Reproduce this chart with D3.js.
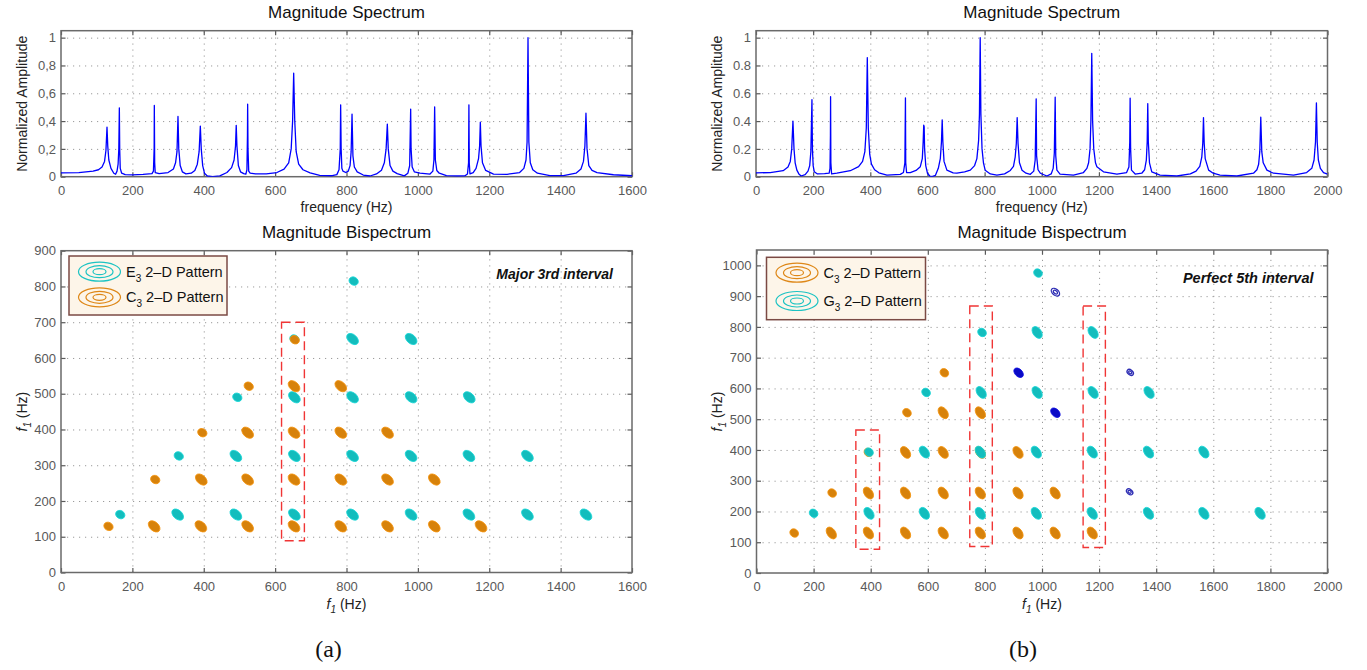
<!DOCTYPE html>
<html>
<head>
<meta charset="utf-8">
<script src="https://cdn.jsdelivr.net/npm/d3@7"></script>
<style>
  body { margin: 0; background: #fff; }
  svg { display: block; font-family: "Liberation Sans", Arial, Helvetica, sans-serif; }
</style>
</head>
<body>
<svg id="fig" width="1367" height="670"></svg>
<script>
// ---------- magnitude spectrum, chord (a): C3 + E3 ----------
const spectrumA = [
  [0,0.027],[50,0.03],[90,0.04],[105,0.05],[115,0.07],[122,0.11],[126,0.19],[128.9,0.357],[131,0.22],[134,0.12],
  [140,0.06],[148,0.025],[153,0.018],[157,0.04],[160,0.09],[162,0.2],[163.5,0.495],[164.5,0.2],[166,0.06],[170,0.025],
  [180,0.015],[200,0.013],[230,0.016],[255,0.022],[259,0.04],[261,0.2],[261.5,0.512],[262.5,0.1],[264,0.03],[275,0.022],
  [300,0.03],[315,0.055],[321,0.1],[325,0.18],[327.8,0.433],[330,0.2],[334,0.08],[340,0.035],[350,0.02],[365,0.025],
  [375,0.045],[382,0.09],[387,0.18],[390.4,0.364],[393,0.2],[397,0.08],[402,0.025],[410,0.005],[425,0.0],[445,0.006],
  [465,0.03],[478,0.065],[485,0.12],[489,0.22],[491,0.369],[493,0.22],[497,0.08],[503,0.035],[512,0.022],[518,0.018],
  [521,0.05],[522.5,0.3],[523,0.521],[524,0.2],[526,0.04],[530,0.025],[545,0.02],[575,0.02],[605,0.03],[625,0.055],
  [638,0.1],[645,0.2],[649,0.4],[652,0.744],[655,0.4],[659,0.18],[666,0.09],[678,0.05],[698,0.027],[725,0.01],
  [760,0.007],[773,0.015],[779,0.05],[782.5,0.2],[783.6,0.517],[785,0.2],[787,0.06],[790,0.04],[798,0.03],[805,0.04],
  [810,0.08],[813,0.18],[815.5,0.45],[818,0.15],[822,0.07],[830,0.035],[847,0.012],[866,0.005],[884,0.02],[898,0.047],
  [906,0.1],[911,0.2],[914.4,0.378],[917,0.2],[922,0.08],[930,0.04],[942,0.022],[962,0.006],[972,0.025],[977,0.08],
  [979.8,0.486],[981,0.2],[984,0.07],[990,0.035],[1006,0.025],[1034,0.019],[1042,0.04],[1045,0.12],[1047,0.502],[1049,0.12],
  [1053,0.045],[1060,0.025],[1080,0.008],[1110,0.005],[1132,0.007],[1139,0.02],[1142,0.1],[1143,0.517],[1144,0.1],[1146,0.02],
  [1155,0.03],[1163,0.06],[1170,0.13],[1173,0.22],[1175,0.392],[1177,0.22],[1181,0.1],[1190,0.045],[1212,0.019],[1250,0.017],
  [1285,0.03],[1297,0.06],[1303,0.12],[1306,0.25],[1308.6,1.0],[1311,0.25],[1315,0.1],[1322,0.05],[1335,0.025],[1370,0.008],
  [1408,0.008],[1443,0.025],[1457,0.055],[1464,0.11],[1468,0.22],[1471,0.457],[1474,0.2],[1479,0.08],[1488,0.045],[1502,0.03],
  [1548,0.014],[1600,0.007]
];

// ---------- magnitude spectrum, chord (b): C3 + G3 ----------
const spectrumB = [
  [0,0.027],[50,0.03],[95,0.043],[112,0.07],[120,0.11],[125,0.2],[129.3,0.40],[133,0.2],[137,0.1],[143,0.047],
  [150,0.02],[158,0.005],[172,0.015],[182,0.04],[188,0.08],[192,0.18],[195.8,0.555],[197.5,0.2],[200,0.08],[204,0.035],
  [215,0.02],[240,0.022],[256,0.025],[259,0.06],[260.5,0.3],[261,0.575],[262,0.1],[264.6,0.02],[283,0.025],[330,0.043],
  [359,0.072],[373,0.11],[381,0.18],[386,0.35],[389.5,0.857],[393,0.35],[398,0.16],[404,0.09],[415,0.05],[430,0.028],
  [458,0.012],[505,0.017],[516,0.03],[521,0.1],[523,0.567],[524,0.1],[527,0.03],[540,0.03],[560,0.045],[575,0.072],
  [582,0.13],[585,0.25],[587,0.371],[588.5,0.36],[590,0.2],[594,0.08],[600,0.025],[608,0.005],[616,0.0],[628,0.01],
  [638,0.06],[645,0.13],[649,0.25],[651.6,0.409],[654,0.25],[658,0.11],[668,0.047],[690,0.028],[703,0.025],[730,0.035],
  [750,0.047],[765,0.08],[773,0.13],[779,0.26],[782,0.45],[784.6,1.0],[787,0.45],[791,0.2],[796,0.1],[802,0.047],
  [820,0.02],[843,0.012],[870,0.02],[890,0.045],[901,0.075],[907,0.14],[911,0.24],[914,0.425],[917,0.24],[922,0.1],
  [931,0.047],[945,0.025],[960,0.017],[972,0.04],[977,0.12],[980.5,0.56],[982,0.15],[987,0.05],[995,0.025],[1018,0.005],
  [1033,0.02],[1040,0.06],[1044,0.17],[1047,0.572],[1049,0.15],[1053,0.047],[1064,0.019],[1111,0.012],[1146,0.03],[1158,0.06],
  [1164,0.1],[1169,0.2],[1172,0.4],[1175,0.887],[1178,0.4],[1182,0.2],[1188,0.1],[1193,0.072],[1216,0.035],[1263,0.019],
  [1297,0.03],[1305,0.07],[1308,0.25],[1309.3,0.565],[1311,0.2],[1314,0.047],[1327,0.019],[1350,0.025],[1360,0.05],[1366,0.12],
  [1369,0.25],[1371,0.526],[1373,0.25],[1377,0.1],[1385,0.035],[1414,0.012],[1473,0.005],[1520,0.02],[1540,0.04],[1553,0.075],
  [1560,0.14],[1563.5,0.24],[1566,0.425],[1568.5,0.24],[1572,0.13],[1584,0.047],[1600,0.025],[1624,0.012],[1683,0.005],[1741,0.025],
  [1753,0.05],[1759,0.09],[1763,0.18],[1766.5,0.428],[1770,0.18],[1775,0.1],[1788,0.047],[1811,0.025],[1881,0.012],[1927,0.03],
  [1945,0.06],[1953,0.12],[1958,0.25],[1961.2,0.53],[1964,0.25],[1968,0.12],[1975,0.06],[1986,0.03],[2000,0.019]
];

// spectrum y tick values and their printed labels
const ampTicks = [0, 0.2, 0.4, 0.6, 0.8, 1];
const ampLabelsA = ["0", "0,2", "0,4", "0,6", "0,8", "1"];
const ampLabelsB = ["0", "0.2", "0.4", "0.6", "0.8", "1"];

// ---------- bispectrum peaks [f1, f2] in Hz ----------
// (a) E3 pattern
const e3PeaksA = [
  [166,162],[327,162],[490,162],[654,162],[817,162],[981,162],[1143,162],[1307,162],[1471,162],
  [330,326],[490,326],[654,326],[817,326],[981,326],[1143,326],[1307,326],
  [494,490],[654,490],[817,490],[981,490],[1144,490],
  [654,653],[817,653],[981,653],
  [820,815]
];
// (a) C3 pattern
const c3PeaksA = [
  [133,129],[261,129],[392,129],[523,129],[653,129],[784,129],[915,129],[1046,129],[1177,129],
  [264,260],[393,260],[523,260],[653,260],[784,260],[915,260],[1046,260],
  [396,391],[523,391],[653,391],[784,391],[915,391],
  [526,521],[653,521],[784,521],
  [655,651]
];
// (b) C3 pattern
const c3PeaksB = [
  [132,130],[262,130],[392,130],[522,130],[654,130],[784,130],[916,130],[1046,130],[1176,130],
  [265,260],[392,260],[522,260],[654,260],[784,260],[916,260],[1046,260],
  [392,392],[522,392],[654,392],[784,392],[916,392],
  [527,521],[654,521],[784,521],
  [658,651]
];
// (b) G3 pattern
const g3PeaksB = [
  [200,194],[394,194],[588,194],[784,194],[980,194],[1176,194],[1373,194],[1567,194],[1764,194],
  [394,393],[588,393],[784,393],[980,393],[1176,393],[1373,393],[1567,393],
  [594,587],[787,587],[983,587],[1179,587],[1375,587],
  [790,782],[983,782],[1179,782],
  [986,975]
];
// (b) cross terms
const crossFilledB = [[918,651],[1047,521]];
const crossRingsB = [[1047,913],[1309,652],[1307,264]];

// highlighted f1 columns [f1 from, f1 to, f2 from, f2 to]
const boxesA = [[618,682,89,700]];
const boxesB = [[348,431,77,465],[747,826,86,868],[1144,1222,83,868]];

// legends
const legendA = [{note:"E", sub:"3", color:"#1cc3c3"}, {note:"C", sub:"3", color:"#de8717"}];
const legendB = [{note:"C", sub:"3", color:"#de8717"}, {note:"G", sub:"3", color:"#1cc3c3"}];

// ---------- drawing ----------
const COL = {
  cyan: "#13bdbd", orange: "#d7820b", blue: "#0a0ac6", ring: "#2d2db4",
  frame: "#6a6a6a", tick: "#5a5a5a", grid: "#9a9a9a", red: "#f03535"
};
const svg = d3.select("#fig");

function makePanel(box, xMax, yMax) {
  const x = d3.scaleLinear().domain([0, xMax]).range([box.l, box.r]);
  const y = d3.scaleLinear().domain([0, yMax]).range([box.b, box.t]);
  return {x, y, box};
}

function drawFrame(p, xTicks, yTicks, yLabels) {
  const {x, y, box} = p;
  const g = svg.append("g");
  const w = box.r - box.l, h = box.b - box.t;

  // dotted grid
  g.append("g").attr("transform", `translate(0,${box.b})`)
    .call(d3.axisBottom(x).tickValues(xTicks.filter(v => v > 0 && v < x.domain()[1]))
      .tickSize(-h).tickFormat(""))
    .call(a => a.select(".domain").remove())
    .selectAll("line").attr("stroke", COL.grid).attr("stroke-dasharray", "1.2,4.8");
  g.append("g").attr("transform", `translate(${box.l},0)`)
    .call(d3.axisLeft(y).tickValues(yTicks.filter(v => v > 0 && v < y.domain()[1]))
      .tickSize(-w).tickFormat(""))
    .call(a => a.select(".domain").remove())
    .selectAll("line").attr("stroke", COL.grid).attr("stroke-dasharray", "1.2,4.8");

  // inward ticks on all four sides
  const axes = [
    [d3.axisBottom(x).tickValues(xTicks).tickFormat(d => d).tickPadding(9), `translate(0,${box.b})`],
    [d3.axisTop(x).tickValues(xTicks).tickFormat(""), `translate(0,${box.t})`],
    [d3.axisLeft(y).tickValues(yTicks).tickFormat((d, i) => yLabels[i]).tickPadding(5), `translate(${box.l},0)`],
    [d3.axisRight(y).tickValues(yTicks).tickFormat(""), `translate(${box.r},0)`]
  ];
  axes.forEach(([ax, tr]) => {
    g.append("g").attr("transform", tr)
      .call(ax.tickSize(-4.5))
      .call(a => a.select(".domain").remove())
      .call(a => a.selectAll("line").attr("stroke", COL.tick).attr("stroke-width", 1.2))
      .call(a => a.selectAll("text").attr("fill", "#595959")
        .attr("font-size", 13).attr("font-family", "Liberation Sans, Arial, sans-serif"));
  });
  // outer frame
  g.append("rect").attr("x", box.l).attr("y", box.t).attr("width", w).attr("height", h)
    .attr("fill", "none").attr("stroke", COL.frame).attr("stroke-width", 1.5);
  return g;
}

function title(p, txt) {
  svg.append("text").attr("x", (p.box.l + p.box.r) / 2).attr("y", p.box.t - 12.5)
    .attr("text-anchor", "middle").attr("font-size", 17).attr("fill", "#111").text(txt);
}

function fLabelX(p, yPos) {
  const t = svg.append("text").attr("x", (p.box.l + p.box.r) / 2).attr("y", yPos)
    .attr("text-anchor", "middle").attr("font-size", 14).attr("fill", "#222");
  t.append("tspan").attr("font-style", "italic").text("f");
  t.append("tspan").attr("font-style", "italic").attr("font-size", 10).attr("dy", 4).text("1");
  t.append("tspan").attr("dy", -4).text(" (Hz)");
}
function fLabelY(p, xPos) {
  const cy = (p.box.t + p.box.b) / 2;
  const t = svg.append("text").attr("transform", `translate(${xPos},${cy}) rotate(-90)`)
    .attr("text-anchor", "middle").attr("font-size", 14).attr("fill", "#222");
  t.append("tspan").attr("font-style", "italic").text("f");
  t.append("tspan").attr("font-style", "italic").attr("font-size", 10).attr("dy", 4).text("1");
  t.append("tspan").attr("dy", -4).text(" (Hz)");
}

function drawSpectrum(p, data, clipId) {
  svg.append("clipPath").attr("id", clipId).append("rect")
    .attr("x", p.box.l).attr("y", p.box.t).attr("width", p.box.r - p.box.l).attr("height", p.box.b - p.box.t);
  svg.append("path").datum(data)
    .attr("clip-path", `url(#${clipId})`)
    .attr("fill", "none").attr("stroke", "#0000ff").attr("stroke-width", 1.3)
    .attr("stroke-linejoin", "round")
    .attr("d", d3.line().x(d => p.x(d[0])).y(d => p.y(d[1])));
}

function drawBlobs(p, pts, color, shape) {
  svg.append("g").selectAll("ellipse").data(pts).join("ellipse")
    .each(function (d) {
      const cx = p.x(d[0]), cy = p.y(d[1]);
      const diag = Math.abs(d[0] - d[1]) < 15;
      const rx = diag ? shape.srx : shape.rx, ry = diag ? shape.sry : shape.ry;
      const ang = diag ? shape.sang : shape.ang;
      d3.select(this).attr("cx", cx).attr("cy", cy).attr("rx", rx).attr("ry", ry)
        .attr("transform", `rotate(${ang},${cx},${cy})`)
        .attr("fill", color).attr("stroke", d3.color(color).brighter(0.35)).attr("stroke-width", 0.8);
    });
}

function drawRings(p, pts, color, rx, ry, ang) {
  const g = svg.append("g");
  pts.forEach(d => {
    const cx = p.x(d[0]), cy = p.y(d[1]);
    [1, 0.5].forEach(s => {
      g.append("ellipse").attr("cx", cx).attr("cy", cy).attr("rx", rx * s).attr("ry", ry * s)
        .attr("transform", `rotate(${ang},${cx},${cy})`)
        .attr("fill", "none").attr("stroke", color).attr("stroke-width", 1.3);
    });
  });
}

function drawBoxes(p, boxes) {
  svg.append("g").selectAll("rect").data(boxes).join("rect")
    .attr("x", d => p.x(d[0])).attr("y", d => p.y(d[3]))
    .attr("width", d => p.x(d[1]) - p.x(d[0])).attr("height", d => p.y(d[2]) - p.y(d[3]))
    .attr("fill", "none").attr("stroke", COL.red).attr("stroke-width", 1.4)
    .attr("stroke-dasharray", "9,5");
}

function drawLegend(p, items, dx, dy, w, h, rows) {
  const g = svg.append("g").attr("transform", `translate(${p.box.l + dx},${p.box.t + dy})`);
  g.append("rect").attr("width", w).attr("height", h)
    .attr("fill", "#fdf5e9").attr("stroke", "#7b4a44").attr("stroke-width", 1.5);
  items.forEach((it, i) => {
    const cy = rows[i];
    [[21, 9.5], [13.5, 6], [6.5, 3]].forEach(([rx, ry]) => {
      g.append("ellipse").attr("cx", 30.5).attr("cy", cy).attr("rx", rx).attr("ry", ry)
        .attr("fill", "none").attr("stroke", it.color).attr("stroke-width", 1.2);
    });
    const t = g.append("text").attr("x", 57).attr("y", cy + 5).attr("font-size", 14.5).attr("fill", "#111");
    t.append("tspan").text(it.note);
    t.append("tspan").attr("font-size", 10).attr("dy", 5).text(it.sub);
    t.append("tspan").attr("dy", -5).text(" 2\u2013D Pattern");
  });
}

function note(p, txt, dxRight, dy, size) {
  svg.append("text").attr("x", p.box.r - dxRight).attr("y", p.box.t + dy)
    .attr("text-anchor", "end").attr("font-size", size).attr("font-weight", "bold")
    .attr("font-style", "italic").attr("fill", "#111").text(txt);
}

// ----- panels -----
const pSA = makePanel({l: 61, r: 632, t: 30.7, b: 176.7}, 1600, 1.05);
const pSB = makePanel({l: 756, r: 1327.5, t: 30.7, b: 176.7}, 2000, 1.05);
const pBA = makePanel({l: 61, r: 632, t: 250.7, b: 572.5}, 1600, 900);
const pBB = makePanel({l: 756.5, r: 1327.5, t: 250, b: 573}, 2000, 1050);

// spectra
drawFrame(pSA, d3.range(0, 1601, 200), ampTicks, ampLabelsA);
drawSpectrum(pSA, spectrumA, "clipSA");
title(pSA, "Magnitude Spectrum");
svg.append("text").attr("x", (pSA.box.l + pSA.box.r) / 2).attr("y", 212).attr("text-anchor", "middle")
  .attr("font-size", 14).attr("fill", "#222").text("frequency (Hz)");
svg.append("text").attr("transform", `translate(27,${(pSA.box.t + pSA.box.b) / 2}) rotate(-90)`)
  .attr("text-anchor", "middle").attr("font-size", 14).attr("fill", "#222").text("Normalized Amplitude");

drawFrame(pSB, d3.range(0, 2001, 200), ampTicks, ampLabelsB);
drawSpectrum(pSB, spectrumB, "clipSB");
title(pSB, "Magnitude Spectrum");
svg.append("text").attr("x", (pSB.box.l + pSB.box.r) / 2).attr("y", 212).attr("text-anchor", "middle")
  .attr("font-size", 14).attr("fill", "#222").text("frequency (Hz)");
svg.append("text").attr("transform", `translate(722,${(pSB.box.t + pSB.box.b) / 2}) rotate(-90)`)
  .attr("text-anchor", "middle").attr("font-size", 14).attr("fill", "#222").text("Normalized Amplitude");

// bispectrum (a)
const yTicksA = d3.range(0, 901, 100);
drawFrame(pBA, d3.range(0, 1601, 200), yTicksA, yTicksA.map(String));
title(pBA, "Magnitude Bispectrum");
fLabelX(pBA, 609);
fLabelY(pBA, 27);
const shapeA = {rx: 6.8, ry: 4.4, ang: 42, srx: 4.8, sry: 4.0, sang: 30};
drawBlobs(pBA, e3PeaksA, COL.cyan, shapeA);
drawBlobs(pBA, c3PeaksA, COL.orange, shapeA);
drawBoxes(pBA, boxesA);
drawLegend(pBA, legendA, 8, 5.3, 158, 59, [15.7, 41.3]);
note(pBA, "Major 3rd interval", 19, 28, 14);

// bispectrum (b)
const yTicksB = d3.range(0, 1001, 100);
drawFrame(pBB, d3.range(0, 2001, 200), yTicksB, yTicksB.map(String));
title(pBB, "Magnitude Bispectrum");
fLabelX(pBB, 609);
fLabelY(pBB, 722);
const shapeB = {rx: 6.6, ry: 4.2, ang: 55, srx: 4.6, sry: 3.9, sang: 40};
drawBlobs(pBB, c3PeaksB, COL.orange, shapeB);
drawBlobs(pBB, g3PeaksB, COL.cyan, shapeB);
drawBlobs(pBB, crossFilledB, COL.blue, {rx: 5.6, ry: 3.7, ang: 45, srx: 5.6, sry: 3.7, sang: 45});
drawRings(pBB, crossRingsB.slice(0, 1), COL.ring, 4.8, 3.0, 40);
drawRings(pBB, crossRingsB.slice(1), COL.ring, 3.6, 2.4, 40);
drawBoxes(pBB, boxesB);
drawLegend(pBB, legendB, 10, 7.3, 159, 62.4, [15.4, 43.7]);
note(pBB, "Perfect 5th interval", 14, 33, 14.5);

// sub-figure captions
[["(a)", (pBA.box.l + pBA.box.r) / 2 - 18], ["(b)", (pBB.box.l + pBB.box.r) / 2 - 19]].forEach(([t, cx]) => {
  svg.append("text").attr("x", cx).attr("y", 657).attr("text-anchor", "middle")
    .attr("font-family", "Liberation Serif, Times New Roman, serif").attr("font-size", 24)
    .attr("fill", "#111").text(t);
});
</script>
</body>
</html>
